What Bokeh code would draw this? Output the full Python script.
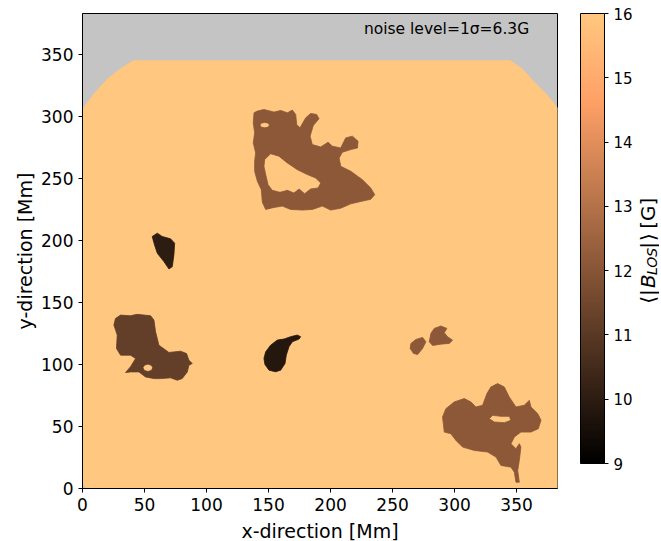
import numpy as np
from bokeh.plotting import figure
from bokeh.layouts import row
from bokeh.models import (ColumnDataSource, LinearColorMapper, ColorBar,
                          FixedTicker, Label)
from bokeh.embed import file_html
from bokeh.resources import INLINE

# ---------------- data ----------------
x_ticks = [0, 50, 100, 150, 200, 250, 300, 350]
y_ticks = [0, 50, 100, 150, 200, 250, 300, 350]
cbar_ticks = [9, 10, 11, 12, 13, 14, 15, 16]
b_low, b_high = 9, 16
x_extent = [0, 383]
y_extent = [0, 383]
noise_text = "noise level=1σ=6.3G"

# valid-data region (outside is NaN / grey)
disk_x = [0, 3, 383, 383, 374, 364, 355, 345, 41, 30, 20, 10, 0]
disk_y = [4, 0, 0, 307, 318, 328, 338, 345, 345, 338, 330, 319, 306]
disk_value = 16.0

# upper large plage
top_x = [138.3, 141, 146.3, 154.4, 159.8, 165.2, 169.2, 171.9, 172.7, 175.4, 180, 184,
         188.8, 190.7, 186.1, 183.5, 185.3, 192.1, 198, 201.5, 208.2, 212.2, 217.6,
         222.2, 221.7, 216.3, 209.5, 206.9, 208.2, 216.3, 225.7, 232.4, 235.6, 232.4,
         224.3, 216.3, 208.2, 200.1, 193.4, 185.3, 177.3, 167.9, 161.1, 154.4, 147.7,
         145, 144.2, 141, 138.8, 138.8, 139.6, 137.7, 138.8, 137.7]
top_y = [302.9, 304.3, 305.6, 303.5, 304.8, 302.9, 305.1, 301.6, 293.5, 290.8, 298.9,
         302.4, 301.6, 298.1, 292.7, 284.1, 277.3, 275.4, 279.2, 276, 274.6, 282.7,
         284.1, 280, 274.6, 273.3, 271.1, 266.5, 259.8, 255.8, 249, 242.3, 236.9, 233.2,
         231.4, 229.5, 226, 224.5, 227.7, 225, 224.5, 225, 227.7, 226.6, 225, 230.9,
         240.9, 247.7, 255.8, 263.8, 270.6, 278.7, 286.8, 294.8]
top_hole1_x = [143.1, 144, 146.9, 149.8, 150.7, 149.8, 146.9, 144]
top_hole1_y = [293, 294.6, 295.2, 294.6, 293, 291.4, 290.8, 291.4]
top_hole2_x = [146.9, 151.7, 158.4, 165.2, 173.2, 181.3, 188, 192.1, 189.9, 184, 179.1,
               174.6, 170.5, 165.2, 159.2, 153, 149.6, 147.7, 146.3]
top_hole2_y = [265.2, 270, 267.9, 262.5, 257.1, 253.1, 250.4, 246.3, 242.3, 241.5,
               237.7, 241.5, 238.2, 240.4, 238.8, 240.4, 245, 253.1, 259.8]

# small dark spot (x~65, y~190)
spot1_x = [56.2, 60.3, 64.3, 71, 74.3, 73.7, 72.4, 69.7, 65.6, 60.3, 58.1]
spot1_y = [203.2, 205.9, 203.2, 201.3, 197.8, 188.3, 178.9, 177, 183, 189.7, 196.4]

# left plage
left_x = [26.6, 30.7, 38.7, 44.1, 54.9, 57.6, 58.9, 61.6, 69.7, 79.1, 83.9, 85.8, 88.5,
          85.8, 84.5, 80.4, 76.4, 71, 63, 57.6, 50.8, 45.5, 38.7, 34.7, 38.7, 42.8,
          38.7, 30.7, 27.4, 28, 25.3]
left_y = [137.1, 139.8, 139.3, 140.4, 139.3, 135.8, 126.4, 115.6, 109.7, 110.7, 108.8,
          103.5, 100.8, 99.4, 94, 88.6, 87.3, 89.2, 88.6, 88.6, 90, 94, 94, 93.5, 98.1,
          104.8, 107.5, 107.5, 112.9, 123.7, 131.8]
left_hole_x = [48.7, 49.9, 52.7, 55.5, 56.7, 55.5, 52.7, 49.9]
left_hole_y = [97.3, 99.4, 100.3, 99.4, 97.3, 95.2, 94.3, 95.2]

# darkest spot (x~160, y~110)
spot2_x = [146.3, 147.7, 151.7, 157.1, 162.5, 167.8, 173.2, 175.9, 174.6, 169.2, 166.5,
           164.3, 163.3, 159.8, 155.7, 150.4, 147.1]
spot2_y = [104.9, 110.2, 115.6, 119.7, 120.5, 122.4, 123.7, 122.4, 120.5, 118.3, 114.3,
           107.5, 100.8, 95.4, 94.1, 95.4, 100]

# two small plages (x~270-300, y~110-130)
small1_x = [264.8, 268.8, 274.2, 276.9, 274.2, 270.2, 266.9, 264.2]
small1_y = [117, 120.2, 121.8, 118.3, 112.9, 108, 108.9, 112.9]
small2_x = [279.6, 280.9, 283.6, 289, 293.8, 291.7, 294.4, 298.4, 295.7, 289, 282.3]
small2_y = [118.3, 125, 129.1, 131, 129.1, 125.6, 122.3, 119.6, 117, 116.4, 115.3]

# lower-right plage
br_x = [290.3, 293, 299.7, 307.8, 313.2, 317.2, 322.6, 326.1, 329.3, 334.7, 340.1, 344.1,
        349.5, 356.2, 360.3, 361.6, 367, 369.7, 367.5, 361.6, 353.5, 348.2, 345.5, 349.5,
        352.2, 353.5, 352.2, 350.9, 352.2, 349.5, 348.2, 345.5, 337.4, 333.4, 326.6,
        315.9, 306.5, 301.1, 297, 291.7, 291.1]
br_y = [57.7, 64.4, 69.8, 72.5, 69.8, 65.8, 67.1, 76.5, 81.9, 84.6, 81.9, 73.8, 65.8,
        67.1, 71.1, 65.8, 60.4, 55, 48.2, 45.5, 45.5, 41.5, 36.1, 32.1, 36.1, 33.4, 22.6,
        14.5, 5.1, 5.1, 13.2, 17.2, 18.6, 25.3, 29.4, 30.7, 33.4, 38.8, 44.2, 45.5, 50.9]
br_hole_x = [328, 330.7, 337.4, 344.1, 345.5, 340.1, 332]
br_hole_y = [56.3, 59, 58.2, 58.2, 55, 53.1, 53.6]

# mean |B_LOS| of each region [G]
region_values = [disk_value, 12.1, 10.0, 11.2, 9.8, 12.1, 12.1, 12.1]

# ---------------- styling helpers ----------------
def copper(n=256):
    t = np.linspace(0, 1, n)
    r = np.minimum(1.0, t / 0.809524)
    g = 0.7812 * t
    b = 0.4975 * t
    return ["#%02x%02x%02x" % (int(round(rr * 255)), int(round(gg * 255)), int(round(bb * 255)))
            for rr, gg, bb in zip(r, g, b)]

palette = copper()
mapper = LinearColorMapper(palette=palette, low=b_low, high=b_high)
FONT = "DejaVu Sans"

xs = [
    [[disk_x]],
    [[top_x, top_hole1_x, top_hole2_x]],
    [[spot1_x]],
    [[left_x, left_hole_x]],
    [[spot2_x]],
    [[small1_x]],
    [[small2_x]],
    [[br_x, br_hole_x]],
]
ys = [
    [[disk_y]],
    [[top_y, top_hole1_y, top_hole2_y]],
    [[spot1_y]],
    [[left_y, left_hole_y]],
    [[spot2_y]],
    [[small1_y]],
    [[small2_y]],
    [[br_y, br_hole_y]],
]
src = ColumnDataSource(dict(xs=xs, ys=ys, val=region_values))

H = 538
P_RIGHT = 80
p = figure(frame_width=475, frame_height=475,
           x_range=(x_extent[0], x_extent[1]), y_range=(y_extent[0], y_extent[1]),
           output_backend="svg", toolbar_location=None,
           min_border_left=82, min_border_top=13, min_border_bottom=50,
           min_border_right=P_RIGHT)
p.background_fill_color = "#c4c4c4"
p.border_fill_color = "white"
p.outline_line_color = "black"
p.outline_line_width = 1
p.grid.visible = False

p.multi_polygons(xs="xs", ys="ys", source=src,
                 fill_color={"field": "val", "transform": mapper},
                 line_color={"field": "val", "transform": mapper}, line_width=0.8)

for ax, ticks, lab in ((p.xaxis, x_ticks, "x-direction [Mm]"),
                       (p.yaxis, y_ticks, "y-direction [Mm]")):
    ax.ticker = FixedTicker(ticks=ticks)
    ax.axis_label = lab
    ax.axis_label_text_font = FONT
    ax.axis_label_text_font_size = "19px"
    ax.axis_label_text_font_style = "normal"
    ax.major_label_text_font = FONT
    ax.major_label_text_font_size = "17px"
    ax.major_label_text_color = "black"
    ax.axis_label_text_color = "black"
    ax.major_tick_out = 4
    ax.major_tick_in = 0
    ax.minor_tick_out = 0
    ax.minor_tick_in = 0
    ax.axis_line_color = "black"
    ax.major_tick_line_color = "black"
    ax.major_label_standoff = 5
p.xaxis.axis_label_standoff = 6
p.yaxis.axis_label_standoff = 2

cb = ColorBar(color_mapper=mapper, ticker=FixedTicker(ticks=cbar_ticks),
              width=24, height=450, location=(23, 25), padding=0, margin=0,
              major_tick_out=4, major_tick_in=0, major_tick_line_color="black",
              minor_tick_out=0, minor_tick_in=0,
              bar_line_color="black", bar_line_width=1,
              major_label_text_font=FONT, major_label_text_font_size="15px",
              major_label_text_color="black", label_standoff=5,
              background_fill_alpha=0)
p.add_layout(cb, "right")

p.add_layout(Label(x=360.2, y=370.3, text=noise_text, text_align="right",
                   text_baseline="middle", text_font=FONT,
                   text_font_size="15.5px", text_color="black"))

# ---- strip on the right holding the rotated colour-bar title  <|B_LOS|> [G]
W2 = 22
p2 = figure(width=W2, height=H, x_range=(0, W2), y_range=(0, H),
            output_backend="svg", toolbar_location=None,
            x_axis_location=None, y_axis_location=None, min_border=0)
p2.grid.visible = False
p2.outline_line_color = None
p2.background_fill_color = "white"
p2.border_fill_color = "white"

cx = 647 - (82 + 475 + P_RIGHT)
pieces = [("⟨", 333, 0, "20px", "normal"),
          ("|", 324, 0, "20px", "normal"),
          ("B", 315, 0, "20px", "italic"),
          ("LOS", 300, 4, "14px", "italic"),
          ("|", 270, 0, "20px", "normal"),
          ("⟩", 261, 0, "20px", "normal"),
          ("[G]", 247, 0, "20px", "normal")]
for txt, py, dx, fs, st in pieces:
    p2.add_layout(Label(x=cx + dx, y=H - py, text=txt, angle=np.pi / 2,
                        text_align="left", text_baseline="middle",
                        text_font=FONT, text_font_size=fs, text_font_style=st,
                        text_color="black"))

open("out.html", "w").write(file_html(row(p, p2), INLINE))
